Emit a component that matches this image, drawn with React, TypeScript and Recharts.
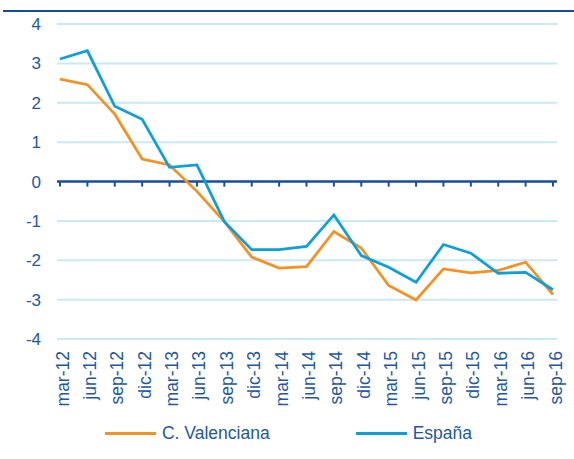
import React from "react";
import { CartesianGrid, Legend, Line, LineChart, ReferenceLine, XAxis, YAxis } from "recharts";

const months = [
  "mar-12", "jun-12", "sep-12", "dic-12", "mar-13", "jun-13", "sep-13", "dic-13", "mar-14", "jun-14",
  "sep-14", "dic-14", "mar-15", "jun-15", "sep-15", "dic-15", "mar-16", "jun-16", "sep-16",
];
const valenciana = [2.6, 2.46, 1.71, 0.57, 0.42, -0.25, -1.02, -1.92, -2.2, -2.16, -1.27, -1.69, -2.64, -3.01, -2.22, -2.32, -2.26, -2.05, -2.87];
const espana = [3.11, 3.32, 1.91, 1.58, 0.36, 0.42, -1.02, -1.73, -1.73, -1.65, -0.85, -1.88, -2.18, -2.56, -1.6, -1.82, -2.33, -2.31, -2.75];
const yTicks = [-4, -3, -2, -1, 0, 1, 2, 3, 4];

const TEXT = "#2157a6";
const AXIS = "#1b4f9e";
const ORANGE = "#f7901e";
const BLUE = "#0ba0dc";
const FONT = "'Liberation Sans', Arial, sans-serif";

const data = months.map((m, i) => ({ m, cv: valenciana[i], es: espana[i] }));

const MonthTick = (props: any) => {
  const { x, y, payload } = props;
  const ty = y + 4;
  return (
    <text
      x={x}
      y={ty}
      dy={8.5}
      transform={`rotate(-90, ${x}, ${ty})`}
      textAnchor="end"
      fill={TEXT}
      fontSize={17.5}
      fontFamily={FONT}
    >
      {payload.value}
    </text>
  );
};

const LegendBox = () => {
  const items = [
    { name: "C. Valenciana", color: ORANGE },
    { name: "España", color: BLUE },
  ];
  return (
    <div style={{ height: 36, paddingLeft: 20, display: "flex", justifyContent: "center", alignItems: "flex-start", gap: 86 }}>
      {items.map((it) => (
        <div key={it.name} style={{ display: "flex", alignItems: "center", height: 20 }}>
          <div style={{ width: 51, height: 3, background: it.color, marginRight: 6 }} />
          <span style={{ color: TEXT, fontSize: 17.5, fontFamily: FONT, lineHeight: "20px" }}>{it.name}</span>
        </div>
      ))}
    </div>
  );
};

export default function App() {
  return (
    <div style={{ position: "absolute", left: 0, top: 0, width: 574, height: 459, background: "#fff" }}>
      <div style={{ position: "absolute", left: 3, top: 10, width: 571, height: 2, background: "#0b4ea2" }} />
      <LineChart width={574} height={459} data={data} margin={{ top: 24, right: 17, left: 0, bottom: 0 }}>
        <CartesianGrid vertical={false} stroke="#c9e9f7" strokeWidth={2} />
        <XAxis
          dataKey="m"
          interval={0}
          height={84}
          tickLine={false}
          axisLine={false}
          padding={{ left: 3, right: 4 }}
          tick={<MonthTick />}
        />
        <YAxis
          width={57}
          domain={[-4, 4]}
          ticks={yTicks}
          tickLine={false}
          axisLine={false}
          tickMargin={10}
          tick={{ fill: TEXT, fontSize: 17, fontFamily: FONT }}
        />
        <ReferenceLine y={0} stroke={AXIS} strokeWidth={2.5} />
        {months.map((m) => (
          <ReferenceLine
            key={m}
            segment={[{ x: m, y: 0 }, { x: m, y: -0.13 }]}
            stroke={AXIS}
            strokeWidth={2}
          />
        ))}
        <Line type="linear" dataKey="cv" name="C. Valenciana" stroke={ORANGE} strokeWidth={2.75} dot={false} isAnimationActive={false} />
        <Line type="linear" dataKey="es" name="España" stroke={BLUE} strokeWidth={2.75} dot={false} isAnimationActive={false} />
        <Legend verticalAlign="bottom" content={<LegendBox />} />
      </LineChart>
    </div>
  );
}
